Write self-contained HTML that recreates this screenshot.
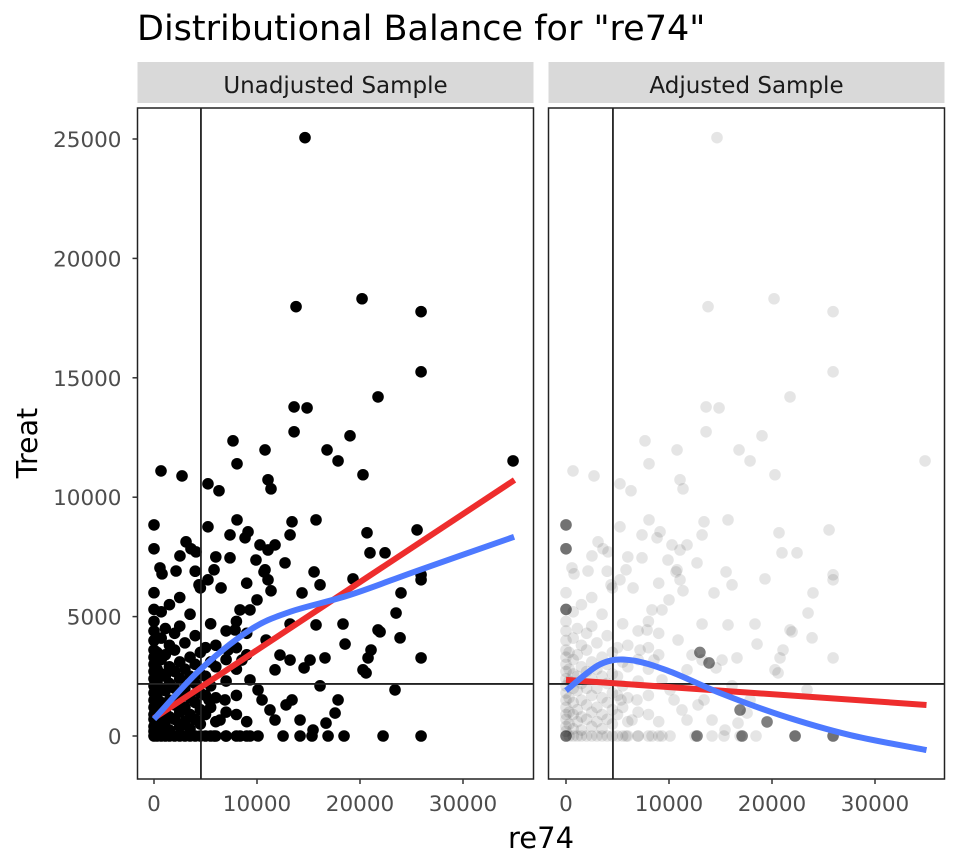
<!DOCTYPE html>
<html><head><meta charset="utf-8"><style>
html,body{margin:0;padding:0;background:#fff;}
svg{display:block;font-family:"DejaVu Sans","Liberation Sans",sans-serif;}
</style></head><body>
<svg id="chart" width="960" height="865">
<text x="137" y="40" font-size="35" fill="#000">Distributional Balance for "re74"</text>
<text x="541" y="848" font-size="29" text-anchor="middle" fill="#000">re74</text>
<text transform="translate(37,443) rotate(-90)" font-size="28.5" text-anchor="middle" fill="#000">Treat</text>
<g id="plots"></g>
</svg>
<script>
const xTicks=[0,10000,20000,30000];
const yTicks=[0,5000,10000,15000,20000,25000];
const panelNames=["Unadjusted Sample","Adjusted Sample"];
const xs=[14660,13790,20200,25930,25930,21750,13600,14860,13600,16800,19030,17870,7670,10780,8060,680,2720,6310,5240,11070,11360,20290,34860,11070,13210,20970,25540,20680,0,0,580,780,8060,5240,7380,8840,2140,3110,3590,4080,10290,9130,13400,15730,7380,5830,5240,4370,2520,6510,11750,12720,10780,11070,11360,15540,19320,22430,25930,25930,23890,21950,21070,20290,18350,18550,16120,14370,15730,13210,12230,13210,14570,16600,16120,17580,16700,15150,23400,20590,20780,22240,25930,25930,23980,23500,21750,9900,10680,10000,9320,8350,7870,7190,8540,9320,10100,10490,11260,11750,12530,14180,15340,16900,12820,10880,11750,13400,14180,15440,17870,18450,8350,9320,10100,5340,5830,6990,6890,6410];
const ys=[25056,17980,18310,17770,15250,14200,13780,13740,12740,11980,12570,11520,12360,11980,11400,11100,10890,10270,10560,10730,10350,10940,11520,7790,8420,7670,8630,8510,8840,7840,7040,6790,9050,8760,8420,8300,6910,8130,7840,7710,8000,8550,8970,9050,7460,6960,6540,6330,7540,6200,8000,7250,6960,6540,6080,6870,6580,7670,6750,6540,4110,4360,3600,2770,4690,3850,6330,5990,4650,4690,3390,3180,2850,3270,2100,960,540,3180,1930,2640,3270,0,0,3270,5990,5150,4440,7370,6870,5700,5280,5280,4440,3600,3180,2350,1930,1510,1090,670,0,0,0,0,1300,4020,2770,1510,670,250,1510,0,0,0,0,1510,0,0,1510,670];
const clusterX=[0,300,700,1100,1500,2000,2500,3000,3500,4000,4500,5000,5500,6000,7000,8000,9000];
const clusterY=[[0,200,400,700,900,1200,1500,1800,2100,2400,2700,3000,3300,3600,4000,4400,4800,5300,6000],[0,500,1000,1600,2300,2800,3500],[0,300,900,1400,2000,2600,3200,4100,5200],[0,600,1100,1900,2500,3400,4500],[0,250,800,1500,2200,2900,3800,5500],[0,700,1300,2000,2700,3600,4300],[0,400,1000,1700,2400,3100,4600,5800],[0,600,1200,2000,2800,3900],[0,300,900,1600,2500,3300,5100],[0,700,1400,2200,3000,4200,6900],[0,500,1100,1800,2600,3500,6200],[0,900,1700,2500,3700],[0,1200,2100,3100,4700],[0,600,1600,2900,3800,7500],[0,1000,2300,3200,4400],[0,900,1700,2800,3700,4800],[0,600,3400,4300,6400]];
const heavyX=[0,0,0,0,12720,17100,22240,25930,19520,16900,13890,13000];
const heavyY=[0,8840,7840,5300,0,0,0,0,590,1090,3060,3500];
const redX=[[0,35000],[0,35000]];
const redY=[[750,10720],[2350,1300]];
const blueX=[[0,4470,9320,13210,19030,25830,34960],[0,3300,6200,10100,14950,20780,27580,35000]];
const blueY=[[710,2770,4440,5200,5910,6960,8340],[1900,3000,3180,2700,1800,880,40,-590]];
const vLine=4557, hLine=2180;

const NS="http://www.w3.org/2000/svg";
const g=document.getElementById('plots');
function mk(t,a,p){const e=document.createElementNS(NS,t);for(const k in a)e.setAttribute(k,a[k]);(p||g).appendChild(e);return e;}
const panels=[{x0:137.5,x1:533.5,off:0},{x0:548.5,x1:944.5,off:412}];
const yTop=108,yBot=779;
function sy(v){return 736-v*0.02388;}
const allX=xs.slice(),allY=ys.slice();
clusterX.forEach((cx,i)=>clusterY[i].forEach(cy=>{allX.push(cx);allY.push(cy);}));
panels.forEach((p,pi)=>{
  const sx=v=>154+p.off+v*0.0103;
  const strip=mk('rect',{x:p.x0,y:62,width:p.x1-p.x0,height:41,fill:'#d9d9d9'});
  
  
  const st=mk('text',{x:(p.x0+p.x1)/2,y:93,'font-size':23,'text-anchor':'middle',fill:'#1a1a1a'});
  st.textContent=panelNames[pi];
  
  
  const pg=mk('g',{});
  
  
  for(let i=0;i<allX.length;i++){
    const c=mk('circle',{cx:sx(allX[i]),cy:sy(allY[i]),r:5.8,fill:'#000','fill-opacity':pi?0.1:1},pg);
    
    
  }
  if(pi){for(let i=0;i<heavyX.length;i++){
    const c=mk('circle',{cx:sx(heavyX[i]),cy:sy(heavyY[i]),r:5.8,fill:'#000','fill-opacity':0.5},pg);
    
    
  }}
  const vl=mk('line',{x1:sx(vLine),x2:sx(vLine),y1:yTop,y2:yBot,stroke:'#222','stroke-width':1.8},pg);
  
  
  const hl=mk('line',{x1:p.x0,x2:p.x1,y1:sy(hLine),y2:sy(hLine),stroke:'#222','stroke-width':1.8},pg);
  
  
  const rl=mk('polyline',{points:redX[pi].map((v,i)=>sx(v)+','+sy(redY[pi][i])).join(' '),fill:'none',stroke:'#ee2d2d','stroke-width':6},pg);
  
  
  let d='';const bx=blueX[pi],by=blueY[pi];
  const P=bx.map((v,i)=>[sx(v),sy(by[i])]);
  d='M'+P[0];
  for(let i=0;i<P.length-1;i++){const p0=P[i-1]||P[i],p1=P[i],p2=P[i+1],p3=P[i+2]||P[i+1];
    d+=' C'+(p1[0]+(p2[0]-p0[0])/6)+','+(p1[1]+(p2[1]-p0[1])/6)+' '+(p2[0]-(p3[0]-p1[0])/6)+','+(p2[1]-(p3[1]-p1[1])/6)+' '+p2[0]+','+p2[1];}
  const bl=mk('path',{d:d,fill:'none',stroke:'#4d79ff','stroke-width':6},pg);
  
  
  const fr=mk('rect',{x:p.x0,y:yTop,width:p.x1-p.x0,height:yBot-yTop,fill:'none',stroke:'#222','stroke-width':1.5});
  
  
  xTicks.forEach(t=>{
    mk('line',{x1:sx(t),x2:sx(t),y1:yBot,y2:yBot+5,stroke:'#333','stroke-width':1.5});
    const tt=mk('text',{x:sx(t),y:yBot+32,'font-size':21.5,'text-anchor':'middle',fill:'#4d4d4d'});
    tt.textContent=t;
    
    
  });
  if(pi===0){yTicks.forEach(t=>{
    mk('line',{x1:p.x0-5,x2:p.x0,y1:sy(t),y2:sy(t),stroke:'#333','stroke-width':1.5});
    const tt=mk('text',{x:p.x0-16,y:sy(t)+8,'font-size':21.5,'text-anchor':'end',fill:'#4d4d4d'});
    tt.textContent=t;
    
    
  });}
});
</script>
</body></html>
